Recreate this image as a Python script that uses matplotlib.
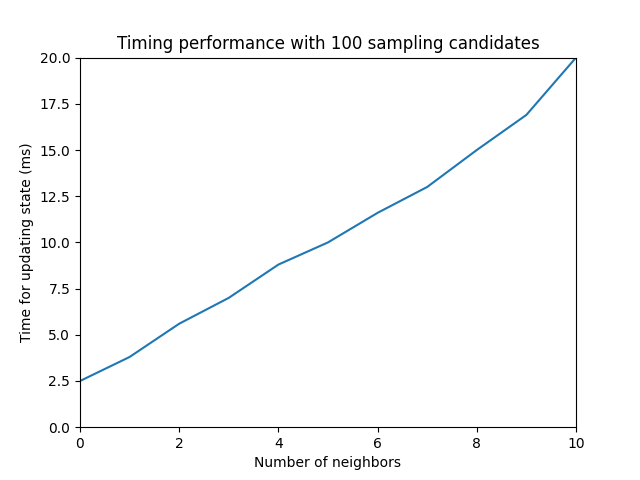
import matplotlib
matplotlib.use('Agg')
import matplotlib.pyplot as plt

neighbors = [0, 1, 2, 3, 4, 5, 6, 7, 8, 9, 10]
update_ms = [2.5, 3.8, 5.6, 7.0, 8.8, 10.0, 11.6, 13.0, 15.0, 16.9, 20.0]

fig, ax = plt.subplots(figsize=(6.4, 4.8), dpi=100)
ax.plot(neighbors, update_ms)
ax.set_xlim(0, 10)
ax.set_ylim(0, 20)
ax.set_xlabel('Number of neighbors')
ax.set_ylabel('Time for updating state (ms)')
ax.set_title('Timing performance with 100 sampling candidates')
fig.savefig('out.png')
